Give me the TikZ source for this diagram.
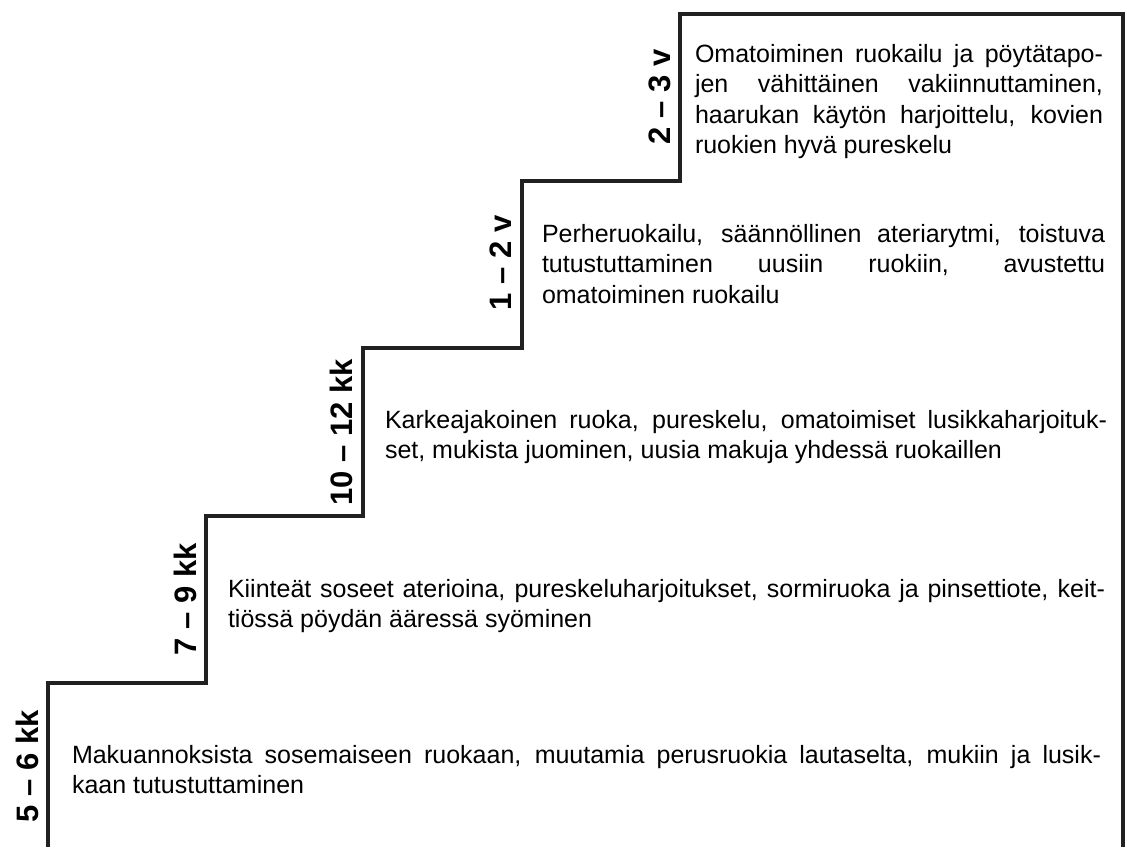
\documentclass[tikz,border=0pt]{standalone}
\usepackage{fontspec}
\setmainfont{Liberation Sans}
\newcommand{\fontspaces}{\spaceskip=0pt\xspaceskip=0pt\relax}
\newcommand{\jline}[2]{\makebox[#1][s]{\fontspaces#2}}
\begin{document}
\begin{tikzpicture}[x=0.5pt,y=-0.5pt,
  stair/.style={line width=1.8pt, draw=black!87, line join=miter},
  desc/.style={anchor=base west, inner sep=0pt, outer sep=0pt, align=left,
    font=\fontsize{12.5}{15.25}\selectfont, text=black},
  age/.style={rotate=90, anchor=base, inner sep=0pt, outer sep=0pt,
    font=\bfseries\fontsize{15.5}{18}\selectfont, text=black}]
\useasboundingbox (0,0) rectangle (1127,847);

% staircase outline
\draw[stair] (48,847) -- (48,683) -- (206,683) -- (206,516) -- (363,516)
  -- (363,348) -- (522,348) -- (522,181) -- (680,181) -- (680,14)
  -- (1123,14) -- (1123,847);

% age labels
\node[age] (a1) at (38,766) {5 – 6 kk};
\node[age] (a2) at (196,599) {7 – 9 kk};
\node[age] (a3) at (352,432) {10 – 12 kk};
\node[age] (a4) at (511,263) {1 – 2 v};
\node[age] (a5) at (670,97) {2 – 3 v};

% descriptions
\node[desc, text width=516.5pt] (t1) at (72,763)
  {\fontspaces\jline{514.5pt}{Makuannoksista sosemaiseen ruokaan, muutamia perusruokia lautaselta, mukiin ja lusik-}\\
   kaan tutustuttaminen};
\node[desc, text width=438.5pt] (t2) at (228,597)
  {\fontspaces\jline{438.5pt}{Kiinteät soseet aterioina, pureskeluharjoitukset, sormiruoka ja pinsettiote, keit-}\\
   tiössä pöydän ääressä syöminen};
\node[desc, text width=361pt] (t3) at (385,428)
  {\fontspaces\jline{361pt}{Karkeajakoinen ruoka, pureskelu, omatoimiset lusikkaharjoituk-}\\
   set, mukista juominen, uusia makuja yhdessä ruokaillen};
\node[desc, text width=281.5pt] (t4) at (542,242)
  {\fontspaces\jline{281.5pt}{Perheruokailu, säännöllinen ateriarytmi, toistuva}\\
   \jline{281.5pt}{tutustuttaminen uusiin ruokiin, avustettu}\\
   omatoiminen ruokailu};
\node[desc, text width=204pt] (t5) at (695,62)
  {\fontspaces\jline{204pt}{Omatoiminen ruokailu ja pöytätapo-}\\
   \jline{204pt}{jen vähittäinen vakiinnuttaminen,}\\
   \jline{204pt}{haarukan käytön harjoittelu, kovien}\\
   ruokien hyvä pureskelu};
\end{tikzpicture}
\end{document}
